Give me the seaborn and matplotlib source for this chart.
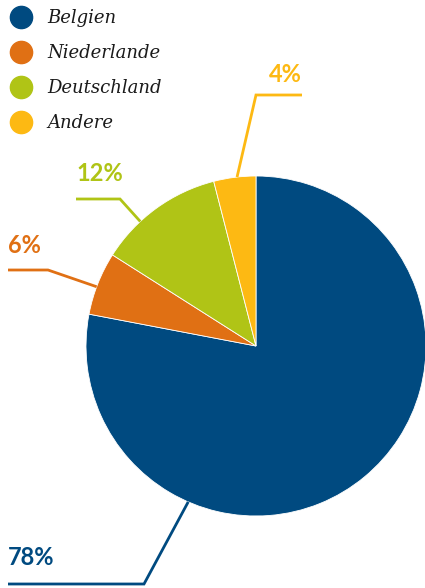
import numpy as np
import matplotlib.pyplot as plt
import seaborn as sns
from matplotlib.lines import Line2D

countries = ["Belgien", "Niederlande", "Deutschland", "Andere"]
shares = [78, 6, 12, 4]
pct_labels = ["78%", "6%", "12%", "4%"]
colors = ["#004a80", "#e07014", "#b0c416", "#fdb913"]

W, H = 425, 588
CX, CY, R = 256, 242, 170  # pie centre / radius, data units = pixels (y up)

# leader layout in pixel coords (y down): rim angle, elbow, end, label baseline, alignment
leaders = [
    (246.5, (144, 584), (8, 584), (8, 565), "left"),
    (159.6, (48, 270), (8, 270), (8, 253), "left"),
    (132.9, (120, 199), (76, 199), (76, 181), "left"),
    (96.4, (256, 95), (302, 95), (302, 82), "right"),
]

sns.set_theme(style="white")
plt.rcParams["font.family"] = ["Lato", "DejaVu Sans"]

fig = plt.figure(figsize=(4.25, 5.88), dpi=100)
ax = fig.add_axes([0, 0, 1, 1])

wedges, _ = ax.pie(shares, colors=colors, startangle=90, counterclock=False,
                   center=(CX, CY), radius=R,
                   wedgeprops=dict(edgecolor="white", linewidth=0.6))
ax.set_xlim(0, W)
ax.set_ylim(0, H)
ax.set_aspect("equal")
ax.axis("off")

for (ang, elbow, end, txt, ha), lab, col in zip(leaders, pct_labels, colors):
    a = np.deg2rad(ang)
    rim = (CX + R * np.cos(a), CY + R * np.sin(a))
    xs = [rim[0], elbow[0], end[0]]
    ys = [rim[1], H - elbow[1], H - end[1]]
    ax.plot(xs, ys, color=col, lw=2.0, solid_capstyle="butt", solid_joinstyle="miter")
    ax.text(txt[0], H - txt[1], lab, color=col, fontsize=17, fontweight="bold",
            ha=ha, va="baseline")

handles = [Line2D([], [], marker="o", ls="", markersize=16,
                  markerfacecolor=c, markeredgecolor=c) for c in colors]
ax.legend(handles, countries, loc="upper left", bbox_to_anchor=(0, 1),
          frameon=False, prop=dict(family="DejaVu Serif", style="italic", size=13),
          labelspacing=0.95, handlelength=1.3, handletextpad=0.8,
          borderaxespad=0, borderpad=0.5, labelcolor="#1a1a1a")

fig.savefig("out.png", dpi=100)
